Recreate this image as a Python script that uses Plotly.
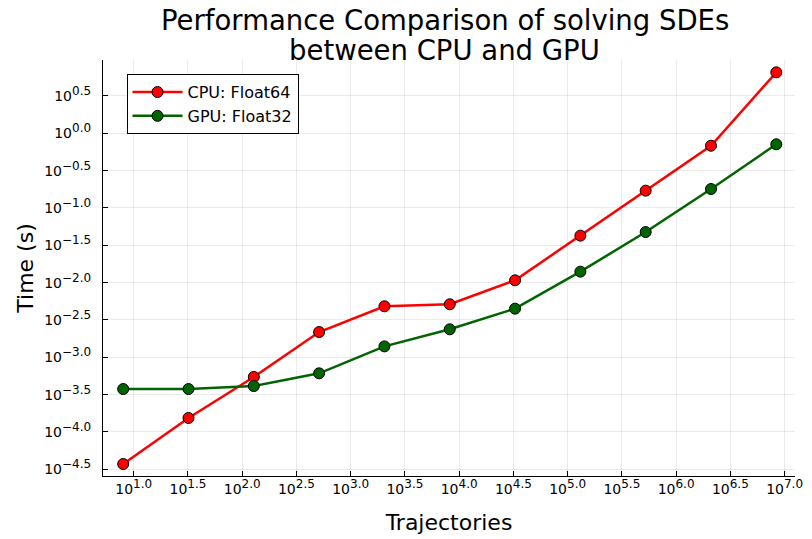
import plotly.graph_objects as go

# Number of trajectories simulated (powers of 4)
trajectories = [8, 32, 128, 512, 2048, 8192, 32768, 131072, 524288, 2097152, 8388608]

# Wall-clock time in seconds
cpu_float64 = [3.72e-5, 1.54e-4, 5.45e-4, 2.18e-3, 4.82e-3, 5.13e-3,
               1.074e-2, 4.26e-2, 0.1706, 0.682, 6.56]
gpu_float32 = [3.76e-4, 3.76e-4, 4.12e-4, 6.10e-4, 1.40e-3, 2.37e-3,
               4.48e-3, 1.403e-2, 4.76e-2, 0.1795, 0.713]

# Tick exponents
x_exponents = [1.0, 1.5, 2.0, 2.5, 3.0, 3.5, 4.0, 4.5, 5.0, 5.5, 6.0, 6.5, 7.0]
y_exponents = [0.5, 0.0, -0.5, -1.0, -1.5, -2.0, -2.5, -3.0, -3.5, -4.0, -4.5]

title_lines = ["Performance Comparison of solving SDEs", "between CPU and GPU"]


def exp_label(e):
    s = f"{e:.1f}".replace("-", "\u2212")
    return f"10<sup><span style='font-size:12px'>{s}</span></sup>"


FONT = "DejaVu Sans"

fig = go.Figure()
fig.add_trace(go.Scatter(
    x=trajectories, y=cpu_float64, name="CPU: Float64",
    mode="lines+markers",
    line=dict(color="#ff0000", width=2.5),
    marker=dict(color="#ff0000", size=11, line=dict(color="black", width=1)),
))
fig.add_trace(go.Scatter(
    x=trajectories, y=gpu_float32, name="GPU: Float32",
    mode="lines+markers",
    line=dict(color="#006400", width=2.5),
    marker=dict(color="#006400", size=11, line=dict(color="black", width=1)),
))

axis_common = dict(
    type="log",
    showline=True, linecolor="black", linewidth=1.2, mirror=False,
    ticks="inside", ticklen=5, tickcolor="black", tickwidth=1,
    showgrid=True, gridcolor="rgba(0,0,0,0.08)", gridwidth=1,
    zeroline=False,
    tickfont=dict(family=FONT, size=14, color="black"),
    title_font=dict(family=FONT, size=22, color="black"),
)

fig.update_xaxes(
    **axis_common,
    range=[0.717, 7.096],
    tickvals=[10 ** e for e in x_exponents],
    ticktext=[exp_label(e) for e in x_exponents],
    title_text="Trajectories",
    title_standoff=18,
)
fig.update_yaxes(
    **axis_common,
    range=[-4.59, 0.982],
    tickvals=[10 ** e for e in y_exponents],
    ticktext=[exp_label(e) for e in y_exponents],
    ticklabelstandoff=8,
    title_text="Time (s)",
    title_standoff=4,
)

# Two-line title with tight line spacing
for text, ypos in zip(title_lines, [1.096, 1.024]):
    fig.add_annotation(
        text=text, xref="paper", yref="paper", x=0.494, y=ypos,
        xanchor="center", yanchor="middle", showarrow=False,
        font=dict(family=FONT, size=27.5, color="black"),
    )

fig.update_layout(
    width=812, height=539,
    margin=dict(l=103, r=9, t=60, b=63),
    paper_bgcolor="white", plot_bgcolor="white",
    font=dict(family=FONT, color="black"),
    legend=dict(
        x=0.034, y=0.966, xanchor="left", yanchor="top",
        bordercolor="black", borderwidth=1, bgcolor="white",
        font=dict(family=FONT, size=16, color="black"),
        itemwidth=50,
    ),
    showlegend=True,
)

fig.write_html("out.html")
